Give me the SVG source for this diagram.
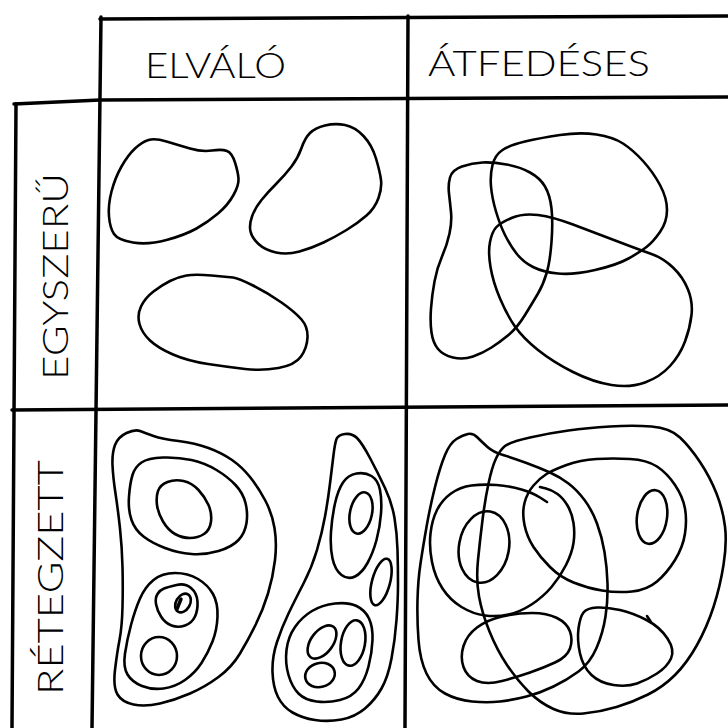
<svg xmlns="http://www.w3.org/2000/svg" width="728" height="728" viewBox="0 0 728 728">
<style>
.g{fill:none;stroke:#000;stroke-width:3.5;stroke-linecap:round;stroke-linejoin:round}
.s{fill:none;stroke:#000;stroke-width:2.6;stroke-linecap:round;stroke-linejoin:round}
.t{font-family:Lato,"Liberation Sans",Arial,sans-serif;font-weight:300;font-size:36px;fill:#000}
</style>
<rect width="728" height="728" fill="#fff"/>
<g id="grid">
<path class="g" d="M100,19 L728,16"/>
<path class="g" d="M14,104 L100,100 L728,97"/>
<path class="g" d="M16,104 L12,728"/>
<path class="g" d="M101,17 L92,728"/>
<path class="g" d="M408,16 L405,728"/>
<path class="g" d="M12,410 L728,405"/>
</g>
<g id="labels">
<text class="t" x="145" y="78" textLength="141" lengthAdjust="spacingAndGlyphs">ELVÁLÓ</text>
<text class="t" x="428" y="76" textLength="222" lengthAdjust="spacingAndGlyphs">ÁTFEDÉSES</text>
<text class="t" transform="translate(68,380) rotate(-90)" x="0" y="0" textLength="207" lengthAdjust="spacingAndGlyphs">EGYSZERŰ</text>
<text class="t" transform="translate(63,695) rotate(-90)" x="0" y="0" textLength="235" lengthAdjust="spacingAndGlyphs">RÉTEGZETT</text>
</g>
<g id="cell-egyszeru-elvalo">
<path class="s" d="M148.5,140 Q155,138 166.5,141.5 Q178,145 190,148.5 Q202,152 212,150.5 Q222,149 227,151 Q232,153 235,162.5 Q238,172 238.5,178.5 Q239,185 233.5,195 Q228,205 218,213.5 Q208,222 196.5,228.5 Q185,235 166.5,240 Q148,245 133,242.5 Q118,240 114,234 Q110,228 109,216.5 Q108,205 111.5,191.5 Q115,178 121.5,166.5 Q128,155 135,148.5 Q142,142 148.5,140 Z"/>
<path class="s" d="M301.5,148 Q305,138 310,133 Q315,128 325,125.5 Q335,123 345,125 Q355,127 363.5,136 Q372,145 376,158.5 Q380,172 381,180 Q382,188 378.5,198 Q375,208 366.5,215.5 Q358,223 346.5,230 Q335,237 323.5,242.5 Q312,248 299.5,251.5 Q287,255 276,252.5 Q265,250 258.5,244 Q252,238 250.5,231.5 Q249,225 252,216.5 Q255,208 261.5,200 Q268,192 276.5,183.5 Q285,175 291.5,166.5 Q298,158 301.5,148 Z"/>
<path class="s" d="M186.5,275.5 Q195,274 211.5,275.5 Q228,277 233,277.5 Q238,278 253,285.5 Q268,293 281.5,302.5 Q295,312 301.5,319.5 Q308,327 307.5,337.5 Q307,348 301,356.5 Q295,365 278.5,368 Q262,371 245,369 Q228,367 208,364 Q188,361 173,354.5 Q158,348 150,340.5 Q142,333 139.5,324 Q137,315 141,306.5 Q145,298 153.5,291.5 Q162,285 170,281 Q178,277 186.5,275.5 Z"/>
</g>
<g id="cell-egyszeru-atfedeses">
<path class="s" d="M450,177.5 Q452,170 462,166.5 Q472,163 482.5,162.5 Q493,162 506.5,164.5 Q520,167 530,172.5 Q540,178 545,186.5 Q550,195 551.5,208.5 Q553,222 551.5,242 Q550,262 546.5,273.5 Q543,285 538,293.5 Q533,302 525,315 Q517,328 508.5,335 Q500,342 491.5,347.5 Q483,353 473,356.5 Q463,360 453,357.5 Q443,355 438,349 Q433,343 431.5,332.5 Q430,322 431,308.5 Q432,295 434.5,281.5 Q437,268 442,256.5 Q447,245 449.5,233.5 Q452,222 451,212 Q450,202 449,193.5 Q448,185 450,177.5 Z"/>
<path class="s" d="M491,186.5 Q490,175 492.5,165 Q495,155 502.5,150 Q510,145 525,141.5 Q540,138 560,135 Q580,132 596.5,134.5 Q613,137 623,143.5 Q633,150 643,161 Q653,172 660,185 Q667,198 667,210 Q667,222 660,232 Q653,242 646.5,247 Q640,252 628.5,258.5 Q617,265 595,270 Q573,275 558,273.5 Q543,272 533,267 Q523,262 516.5,253.5 Q510,245 505,235 Q500,225 496,211.5 Q492,198 491,186.5 Z"/>
<path class="s" d="M490,242 Q492,232 496,227.5 Q500,223 511.5,218 Q523,213 538,215 Q553,217 573,224.5 Q593,232 616.5,241 Q640,250 651.5,254 Q663,258 673,267.5 Q683,277 688,289.5 Q693,302 691.5,315 Q690,328 685,341.5 Q680,355 670,366 Q660,377 645,382.5 Q630,388 611.5,385 Q593,382 573,372 Q553,362 538,350 Q523,338 515,326.5 Q507,315 500,298.5 Q493,282 490.5,267 Q488,252 490,242 Z"/>
</g>
<g id="cell-retegzett-elvalo">
<path class="s" d="M126.5,433 Q135,429 140,431 Q145,433 153.5,436 Q162,439 178.5,441 Q195,443 208.5,448 Q222,453 232,460 Q242,467 250,477 Q258,487 265,500 Q272,513 274.5,528 Q277,543 275,560 Q273,577 268,593.5 Q263,610 255.5,625 Q248,640 240,653.5 Q232,667 218.5,677 Q205,687 190,693.5 Q175,700 160,703.5 Q145,707 133.5,704.5 Q122,702 117.5,694.5 Q113,687 115,670 Q117,653 119.5,640 Q122,627 122.5,607 Q123,587 122.5,567 Q122,547 120,528.5 Q118,510 115.5,493.5 Q113,477 112.5,465 Q112,453 115,445 Q118,437 126.5,433 Z"/>
<path class="s" d="M141.5,462.5 Q148,458 163,457.5 Q178,457 191.5,460 Q205,463 216.5,470 Q228,477 235.5,485 Q243,493 245.5,503 Q248,513 246.5,523 Q245,533 238.5,540 Q232,547 218.5,551 Q205,555 191.5,554 Q178,553 165,548 Q152,543 143.5,536.5 Q135,530 131.5,520 Q128,510 129,496.5 Q130,483 132.5,475 Q135,467 141.5,462.5 Z"/>
<path class="s" d="M167.5,482 Q175,479 183.5,481 Q192,483 198.5,490 Q205,497 208.5,505 Q212,513 211,521.5 Q210,530 204,534 Q198,538 190,538 Q182,538 175,534 Q168,530 163,521.5 Q158,513 157,505 Q156,497 158,491 Q160,485 167.5,482 Z"/>
<path class="s" d="M153.5,580 Q162,573 175,573 Q188,573 198,579 Q208,585 213,594 Q218,603 217.5,616.5 Q217,630 212.5,641.5 Q208,653 201.5,663 Q195,673 185,680 Q175,687 163.5,688.5 Q152,690 142,686 Q132,682 127.5,674.5 Q123,667 125,653.5 Q127,640 131,625 Q135,610 140,598.5 Q145,587 153.5,580 Z"/>
<path class="s" d="M164,588.5 Q168,587 176.5,585 Q185,583 191,588 Q197,593 197.5,601.5 Q198,610 195,616.5 Q192,623 185,625.5 Q178,628 171.5,625.5 Q165,623 161,616.5 Q157,610 156,604 Q155,598 157.5,594 Q160,590 164,588.5 Z"/>
<ellipse class="s" cx="183" cy="603" rx="7" ry="10" transform="rotate(30 183 603)"/>
<path class="s" d="M177,609 L181,599" style="stroke-width:3.5"/>
<ellipse class="s" cx="159" cy="656" rx="18" ry="19"/>
<path class="s" d="M336.5,439 Q338,435 345,434 Q352,433 357,438 Q362,443 370,458 Q378,473 385,488 Q392,503 394.5,518 Q397,533 397.5,550 Q398,567 398,583.5 Q398,600 396.5,620 Q395,640 391.5,658.5 Q388,677 381.5,688.5 Q375,700 365,708.5 Q355,717 341.5,719.5 Q328,722 315,720 Q302,718 292.5,712.5 Q283,707 278,697 Q273,687 272.5,672 Q272,657 277,642 Q282,627 288.5,613.5 Q295,600 303.5,583.5 Q312,567 317,550 Q322,533 325,516.5 Q328,500 330,483.5 Q332,467 333.5,455 Q335,443 336.5,439 Z"/>
<path class="s" d="M343,482.5 Q348,475 356.5,473.5 Q365,472 371.5,476 Q378,480 380,490 Q382,500 381,513.5 Q380,527 376.5,540 Q373,553 367.5,563 Q362,573 355,576.5 Q348,580 341.5,575 Q335,570 332.5,558.5 Q330,547 331,532 Q332,517 335,503.5 Q338,490 343,482.5 Z"/>
<ellipse class="s" cx="361" cy="513" rx="11" ry="21" transform="rotate(12 361 513)"/>
<ellipse class="s" cx="381" cy="582" rx="9" ry="24" transform="rotate(15 381 582)"/>
<path class="s" d="M335,603.5 Q348,602 356.5,606 Q365,610 369,618.5 Q373,627 372.5,640 Q372,653 368.5,666.5 Q365,680 358.5,688.5 Q352,697 340,700 Q328,703 316.5,701.5 Q305,700 298.5,693.5 Q292,687 288.5,675 Q285,663 286.5,650 Q288,637 295,627 Q302,617 312,611 Q322,605 335,603.5 Z"/>
<ellipse class="s" cx="322" cy="642" rx="19" ry="11" transform="rotate(-53 322 642)"/>
<ellipse class="s" cx="353" cy="643" rx="12" ry="23" transform="rotate(10 353 643)"/>
<ellipse class="s" cx="320" cy="675" rx="15" ry="12" transform="rotate(-15 320 675)"/>
</g>
<g id="cell-retegzett-atfedeses">
<path class="s" d="M505,446 Q510,442 530,437.5 Q550,433 568.5,430.5 Q587,428 610,426.5 Q633,425 651.5,426.5 Q670,428 680,437.5 Q690,447 700,462 Q710,477 716.5,493.5 Q723,510 725,526.5 Q727,543 723.5,565 Q720,587 713.5,607 Q707,627 697,645 Q687,663 675,675 Q663,687 648,694.5 Q633,702 616.5,707 Q600,712 583.5,713.5 Q567,715 553.5,709 Q540,703 528.5,691.5 Q517,680 507,665 Q497,650 489.5,631.5 Q482,613 479,596.5 Q476,580 478,560 Q480,540 482.5,520 Q485,500 488.5,483.5 Q492,467 496,458.5 Q500,450 505,446 Z"/>
<path class="s" d="M456.5,439 Q463,435 468,434 Q473,433 477.5,437.5 Q482,442 487.5,447 Q493,452 503,455 Q513,458 526.5,463 Q540,468 550,472.5 Q560,477 568.5,483.5 Q577,490 584.5,500 Q592,510 597,523.5 Q602,537 604.5,552 Q607,567 607.5,583.5 Q608,600 605.5,616.5 Q603,633 596.5,648 Q590,663 578.5,671.5 Q567,680 553.5,686.5 Q540,693 526.5,696.5 Q513,700 500,701.5 Q487,703 472,701.5 Q457,700 445,693.5 Q433,687 426.5,673.5 Q420,660 418.5,640 Q417,620 417.5,600 Q418,580 420.5,563.5 Q423,547 426.5,527 Q430,507 435,487 Q440,467 445,455 Q450,443 456.5,439 Z"/>
<path class="s" d="M547,502 L540,497.5 Q533,493 521.5,489.5 Q510,486 496.5,485 Q483,484 471.5,485.5 Q460,487 451,493.5 Q442,500 437,510 Q432,520 430.5,533.5 Q429,547 432,562 Q435,577 442.5,588.5 Q450,600 461.5,607 Q473,614 485,615.5 Q497,617 508.5,614.5 Q520,612 531.5,604.5 Q543,597 551.5,587 Q560,577 566,565 Q572,553 573.5,543 Q575,533 573.5,523 Q572,513 567.5,505.5 Q563,498 557.5,494 Q552,490 546,488.5 L540,487"/>
<ellipse class="s" cx="484" cy="547" rx="25" ry="36" transform="rotate(10 484 547)"/>
<path class="s" d="M546.5,474 Q553,470 566.5,465 Q580,460 596.5,459 Q613,458 630,459 Q647,460 657,466.5 Q667,473 675,485 Q683,497 685,508.5 Q687,520 685,533.5 Q683,547 675,560 Q667,573 657,581.5 Q647,590 632,591.5 Q617,593 602,590.5 Q587,588 573.5,582.5 Q560,577 550,567 Q540,557 533.5,547 Q527,537 524.5,525 Q522,513 524.5,503 Q527,493 533.5,485.5 Q540,478 546.5,474 Z"/>
<ellipse class="s" cx="652" cy="517" rx="15" ry="27" transform="rotate(8 652 517)"/>
<path class="s" d="M477,627.5 Q487,620 502,616.5 Q517,613 532,613 Q547,613 557,618 Q567,623 570,631.5 Q573,640 570,648.5 Q567,657 555,662.5 Q543,668 530,672.5 Q517,677 502,681 Q487,685 477,681 Q467,677 463.5,667 Q460,657 463.5,646 Q467,635 477,627.5 Z"/>
<path class="s" d="M583.5,612.5 Q587,608 597,607.5 Q607,607 620,610 Q633,613 646.5,620 Q660,627 667.5,638.5 Q675,650 671,658.5 Q667,667 657,673.5 Q647,680 637,683.5 Q627,687 613.5,685 Q600,683 591.5,675 Q583,667 580,653.5 Q577,640 578.5,628.5 Q580,617 583.5,612.5 Z"/>
<path class="s" d="M647,616 L651,622"/>
</g>
</svg>
